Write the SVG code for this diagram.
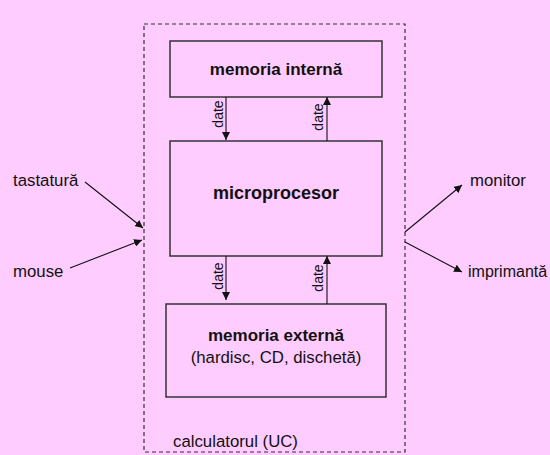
<svg xmlns="http://www.w3.org/2000/svg" width="550" height="455" viewBox="0 0 550 455">
<defs>
<style>
.bg{fill:#ffccff}
.box{fill:#ffccff;stroke:#333;stroke-width:1.5}
.cont{fill:none;stroke:#333;stroke-width:1.2;stroke-dasharray:4 3}
.ln{stroke:#111;stroke-width:1.1;fill:none;marker-end:url(#ah)}
.t{font-family:"Liberation Sans",Arial,sans-serif;fill:#111}
.b{font-weight:bold;text-anchor:middle}
.r{font-size:16.8px}
.d{font-size:14px;text-anchor:middle}
</style>
<marker id="ah" viewBox="0 0 8 8" refX="8" refY="4" markerUnits="userSpaceOnUse" markerWidth="8" markerHeight="8" orient="auto">
<path d="M0,0 L8,4 L0,8 z" fill="#111"/>
</marker>
</defs>
<rect class="bg" x="0" y="0" width="550" height="455"/>
<g id="calculatorul">
<rect class="cont" x="144" y="24" width="261" height="428"/>
<text class="t r" x="173" y="447">calculatorul (UC)</text>
</g>
<g id="memoria-interna">
<rect class="box" x="170" y="41" width="212" height="56"/>
<text class="t b" x="276" y="75" font-size="17">memoria internă</text>
</g>
<g id="microprocesor">
<rect class="box" x="170" y="141" width="212" height="115"/>
<text class="t b" x="276" y="199" font-size="18">microprocesor</text>
</g>
<g id="memoria-externa">
<rect class="box" x="166" y="304" width="220" height="93"/>
<text class="t b" x="276" y="341" font-size="17">memoria externă</text>
<text class="t r" x="276" y="363" text-anchor="middle">(hardisc, CD, dischetă)</text>
</g>
<g id="tastatura"><text class="t r" x="13" y="186">tastatură</text></g>
<g id="mouse"><text class="t r" x="13" y="277">mouse</text></g>
<g id="monitor"><text class="t r" x="470" y="186">monitor</text></g>
<g id="imprimanta"><text class="t" x="468" y="277" font-size="16">imprimantă</text></g>
<g id="connectors">
<line class="ln" x1="226" y1="97" x2="226" y2="140"/>
<line class="ln" x1="327" y1="141" x2="327" y2="97"/>
<line class="ln" x1="226" y1="256" x2="226" y2="300"/>
<line class="ln" x1="327" y1="304" x2="327" y2="256"/>
<line class="ln" x1="85" y1="182" x2="143" y2="228"/>
<line class="ln" x1="70" y1="268" x2="142" y2="240"/>
<line class="ln" x1="405" y1="232" x2="462" y2="185"/>
<line class="ln" x1="405" y1="242" x2="462" y2="272"/>
<text class="t d" transform="translate(223,114) rotate(-90)">date</text>
<text class="t d" transform="translate(323,117) rotate(-90)">date</text>
<text class="t d" transform="translate(223,276) rotate(-90)">date</text>
<text class="t d" transform="translate(323,278) rotate(-90)">date</text>
</g>
</svg>
